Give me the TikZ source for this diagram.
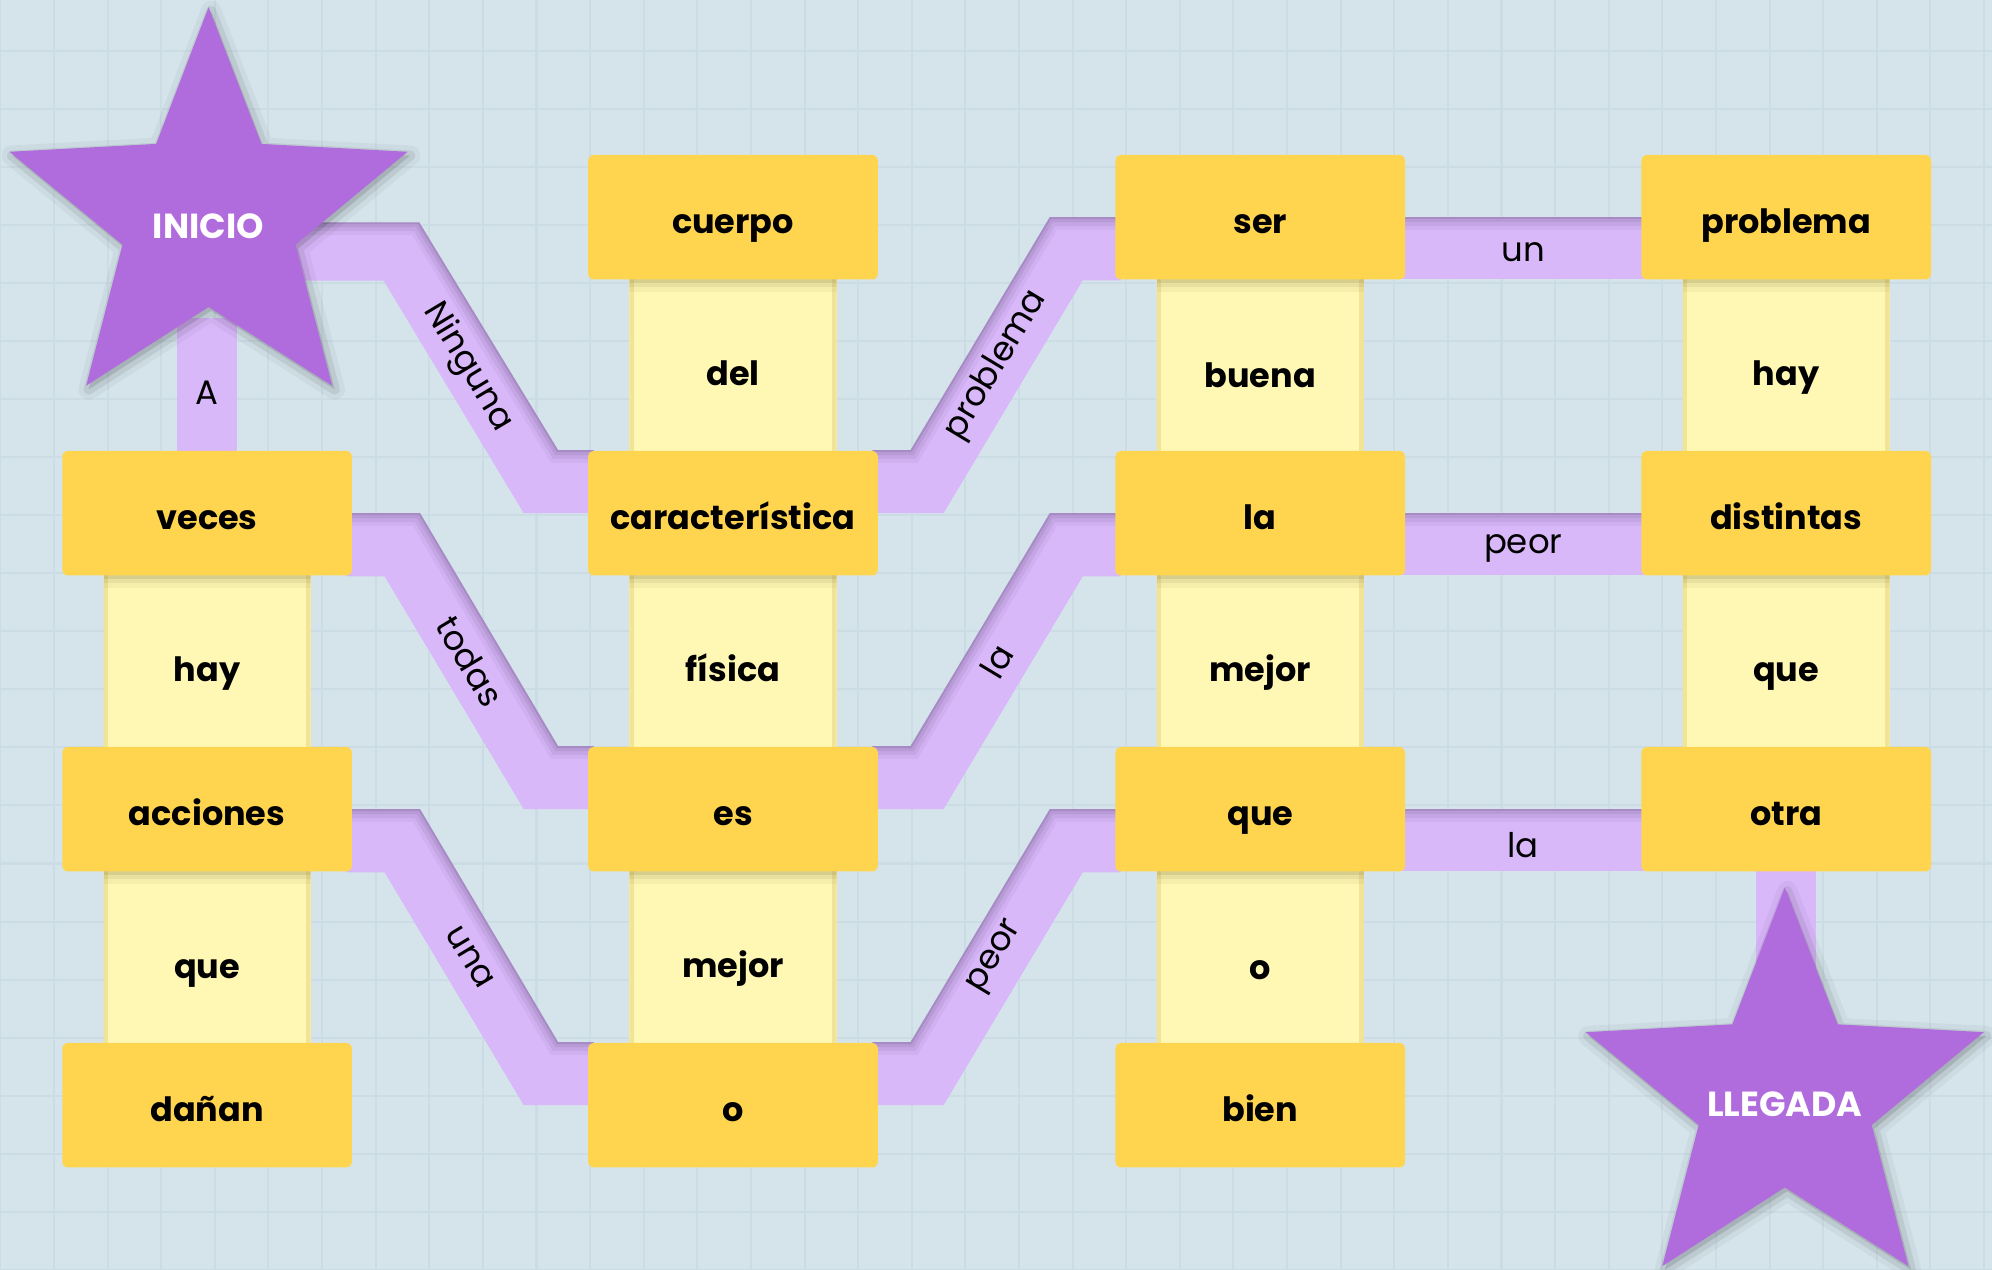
\documentclass[tikz,border=0pt]{standalone}
\usepackage{fontspec}
\setmainfont{Poppins}
\usetikzlibrary{calc}
\definecolor{bgc}{HTML}{D5E4EB}
\definecolor{gridc}{HTML}{CCDCE4}
\definecolor{boxc}{HTML}{FFD550}
\definecolor{linkc}{HTML}{FFF8B4}
\definecolor{linkedge}{HTML}{F2E496}
\definecolor{linksh}{HTML}{8A7F45}
\definecolor{bandc}{HTML}{D9B8FA}
\definecolor{bandsh}{HTML}{5E4A75}
\definecolor{starc}{HTML}{B06CDC}
\pgfdeclarelayer{grid}
\pgfdeclarelayer{bands}
\pgfdeclarelayer{links}
\pgfsetlayers{grid,bands,links,main}

\newcommand\bandpoly[2]{%
  \begin{scope}
    \fill[bandc] #1;
    \clip #1;
    \draw[bandsh, line width=2.0mm, opacity=0.07] #2;
    \draw[bandsh, line width=1.4mm, opacity=0.09] #2;
    \draw[bandsh, line width=0.8mm, opacity=0.12] #2;
    \draw[bandsh, line width=0.3mm, opacity=0.18] #2;
  \end{scope}}
\newcommand\downband[2]{%
  \bandpoly{($(#1.east)+(-5,0)$) -- ($(#1.east)+(53,0)$) -- ($(#2.north west)+(-23,0)$) -- ($(#2.north west)+(5,0)$) -- ($(#2.west)+(5,0)$) -- ($(#2.west)+(-50,0)$) -- ($(#1.south east)+(25,0)$) -- ($(#1.south east)+(-5,0)$) -- cycle}
  {($(#1.east)+(-5,0)$) -- ($(#1.east)+(53,0)$) -- ($(#2.north west)+(-23,0)$) -- ($(#2.north west)+(5,0)$)}}
\newcommand\upband[2]{%
  \bandpoly{($(#1.north east)+(-5,0)$) -- ($(#1.north east)+(25,0)$) -- ($(#2.west)+(-51,0)$) -- ($(#2.west)+(5,0)$) -- ($(#2.south west)+(5,0)$) -- ($(#2.south west)+(-25,0)$) -- ($(#1.east)+(51,0)$) -- ($(#1.east)+(-5,0)$) -- cycle}
  {($(#1.north east)+(-5,0)$) -- ($(#1.north east)+(25,0)$) -- ($(#2.west)+(-51,0)$) -- ($(#2.west)+(5,0)$)}}
\newcommand\hband[2]{%
  \bandpoly{($(#1.east)+(-5,0)$) rectangle ($(#2.south west)+(5,-1)$)}
  {($(#1.east)+(-5,0)$) -- ($(#2.west)+(5,0)$)}}
\newcommand\starshape[1]{%
  \path[#1] (164.2,5.6) -- (205.8,113.3) -- (320.8,119.5) -- (232.6,192.6) -- (261.5,303.6) -- (164.2,241.7) -- (67.8,303.6) -- (96.4,192.6) -- (7.5,119.5) -- (122.9,113.3) -- cycle;}
\newcommand\fullstar{%
  \starshape{draw=black, line width=1.6mm, opacity=0.04, line join=round, shift={(2,3)}}
  \starshape{draw=black, line width=0.8mm, opacity=0.07, line join=round, shift={(2,3)}}
  \starshape{fill=black, opacity=0.12, shift={(2,3)}}
  \starshape{fill=starc}}

\begin{document}
\begin{tikzpicture}[x=0.1mm, y=-0.1mm,
  word/.style={rectangle, rounded corners=0.45mm, fill=boxc, minimum width=22.8mm, minimum height=9.8mm, inner sep=0pt, text height=2.8mm, text depth=0.26mm, font=\fontsize{7.5}{9}\selectfont\bfseries},
  linkbox/.style={rectangle, fill=linkc, minimum width=16.3mm, minimum height=13.6mm, inner sep=0pt,
    path picture={
      \draw[linkedge, line width=0.7mm] (path picture bounding box.north west) -- (path picture bounding box.south west);
      \draw[linkedge, line width=0.7mm] (path picture bounding box.north east) -- (path picture bounding box.south east);
      \draw[linksh, line width=2.0mm, opacity=0.08] (path picture bounding box.north west) -- (path picture bounding box.north east);
      \draw[linksh, line width=1.3mm, opacity=0.12] (path picture bounding box.north west) -- (path picture bounding box.north east);
      \draw[linksh, line width=0.6mm, opacity=0.18] (path picture bounding box.north west) -- (path picture bounding box.north east);
    }},
  linkword/.style={inner sep=0pt, text height=2.8mm, text depth=0.26mm, font=\fontsize{7.5}{9}\selectfont\bfseries},
  bandlabel/.style={inner sep=0pt, font=\fontsize{7.6}{9}\selectfont},
  startext/.style={inner sep=0pt, text=white, font=\fontsize{7.8}{9}\selectfont\bfseries}]
\useasboundingbox (0,0) rectangle (1568,999);

\begin{pgfonlayer}{grid}
  \fill[bgc] (0,0) rectangle (1568,999);
  \foreach \i in {0,...,37} \draw[gridc, line width=0.16mm] (0.3+42.2*\i,0) -- (0.3+42.2*\i,999);
  \foreach \j in {1,...,22} \draw[gridc, line width=0.16mm] (0,-5.8+45.7*\j) -- (1568,-5.8+45.7*\j);
\end{pgfonlayer}

% word boxes
\node[word] (veces)     at (163,404)  {veces};
\node[word] (acciones)  at (163,637)  {acciones};
\node[word] (danan)     at (163,870)  {dañan};
\node[word] (cuerpo)    at (577,171)  {cuerpo};
\node[word] (caract)    at (577,404)  {característica};
\node[word] (es)        at (577,637)  {es};
\node[word] (o1)        at (577,870)  {o};
\node[word] (ser)       at (992,171)  {ser};
\node[word] (la1)       at (992,404)  {la};
\node[word] (que1)      at (992,637)  {que};
\node[word] (bien)      at (992,870)  {bien};
\node[word] (problema)  at (1406,171) {problema};
\node[word] (distintas) at (1406,404) {distintas};
\node[word] (otra)      at (1406,637) {otra};

% light yellow links
\begin{pgfonlayer}{links}
  \node[linkbox] (l1) at ($(veces.south)!0.5!(acciones.north)$) {};
  \node[linkbox] (l2) at ($(acciones.south)!0.5!(danan.north)$) {};
  \node[linkbox] (l3) at ($(cuerpo.south)!0.5!(caract.north)$) {};
  \node[linkbox] (l4) at ($(caract.south)!0.5!(es.north)$) {};
  \node[linkbox] (l5) at ($(es.south)!0.5!(o1.north)$) {};
  \node[linkbox] (l6) at ($(ser.south)!0.5!(la1.north)$) {};
  \node[linkbox] (l7) at ($(la1.south)!0.5!(que1.north)$) {};
  \node[linkbox] (l8) at ($(que1.south)!0.5!(bien.north)$) {};
  \node[linkbox] (l9) at ($(problema.south)!0.5!(distintas.north)$) {};
  \node[linkbox] (l10) at ($(distintas.south)!0.5!(otra.north)$) {};
\end{pgfonlayer}
\node[linkword] at ($(l1)+(0,3)$) {hay};
\node[linkword] at ($(l2)+(0,4)$) {que};
\node[linkword] at ($(l3)+(0,3)$) {del};
\node[linkword] at ($(l4)+(0,3)$) {física};
\node[linkword] at ($(l5)+(0,3)$) {mejor};
\node[linkword] at ($(l6)+(0,5)$) {buena};
\node[linkword] at ($(l7)+(0,3)$) {mejor};
\node[linkword] at ($(l8)+(0,5)$) {o};
\node[linkword] at ($(l9)+(0,3)$) {hay};
\node[linkword] at ($(l10)+(0,3)$) {que};

% purple bands
\coordinate (startA) at (163,250);
\coordinate (endB) at (1406,800);
\begin{pgfonlayer}{bands}
  \fill[bandc] ($(veces.north)+(-23.5,5)$) rectangle ($(startA)+(23.5,0)$);
  \fill[bandc] ($(otra.south)+(-23.5,-5)$) rectangle ($(endB)+(23.5,0)$);
  \bandpoly{(190,175) -- (330,175) -- ($(caract.north west)+(-23,0)$) -- ($(caract.north west)+(5,0)$) -- ($(caract.west)+(5,0)$) -- ($(caract.west)+(-50,0)$) -- (302,221) -- (190,221) -- cycle}
    {(190,175) -- (330,175) -- ($(caract.north west)+(-23,0)$) -- ($(caract.north west)+(5,0)$)}
  \downband{veces}{es}
  \downband{acciones}{o1}
  \upband{caract}{ser}
  \upband{es}{la1}
  \upband{o1}{que1}
  \hband{ser}{problema}
  \hband{la1}{distintas}
  \hband{que1}{otra}
\end{pgfonlayer}

% band labels
\node[bandlabel] at (163,309) {A};
\node[bandlabel, rotate=-59] at (368,289) {Ninguna};
\node[bandlabel, rotate=-59] at ($(veces.east)!0.5!(es.west)$) {todas};
\node[bandlabel, rotate=-59] at ($(acciones.east)!0.5!(o1.west)$) {una};
\node[bandlabel, rotate=59] at ($(caract.east)!0.5!(ser.west)$) {problema};
\node[bandlabel, rotate=59] at ($(es.east)!0.5!(la1.west)$) {la};
\node[bandlabel, rotate=59] at ($(o1.east)!0.5!(que1.west)$) {peor};
\node[bandlabel] at ($(ser.east)!0.5!(problema.south west)+(0,3)$) {un};
\node[bandlabel] at ($(la1.east)!0.5!(distintas.south west)+(0,3)$) {peor};
\node[bandlabel] at ($(que1.east)!0.5!(otra.south west)+(0,3)$) {la};

% stars
\fullstar
\node[startext] (inicio) at (164,178) {INICIO};
\begin{scope}[shift={(1240.7,693)}]
  \fullstar
\end{scope}
\node[startext] (llegada) at (1405,869) {LLEGADA};
\end{tikzpicture}
\end{document}
